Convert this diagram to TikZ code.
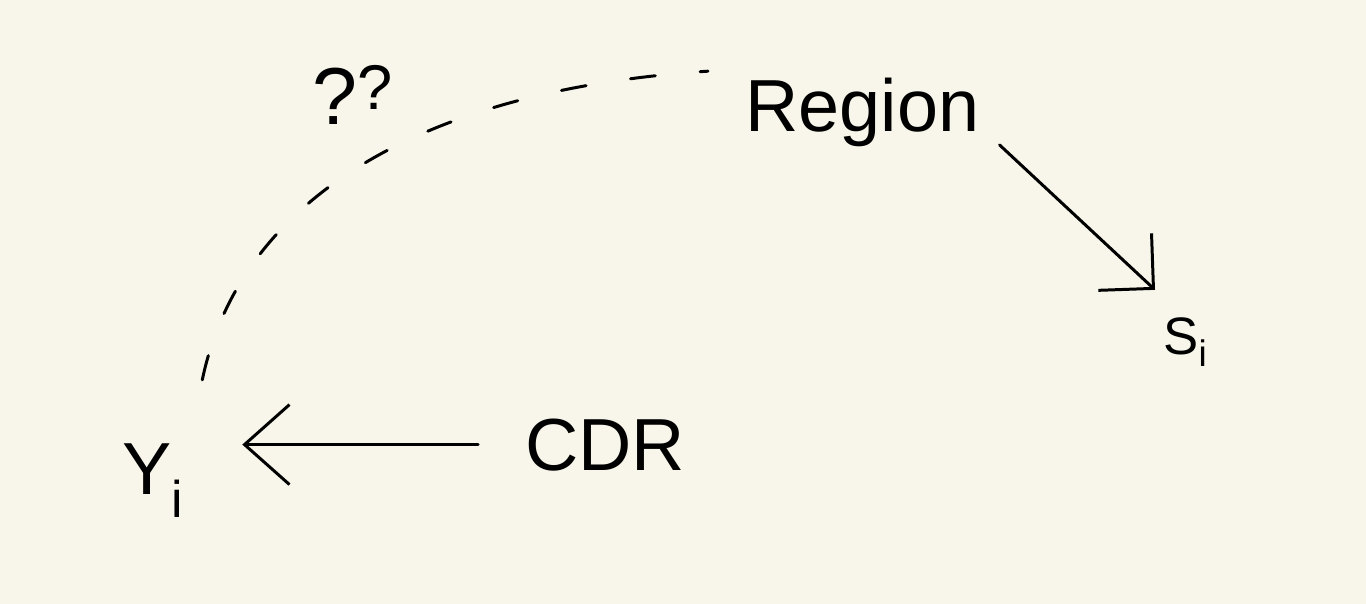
\documentclass[tikz,border=0pt]{standalone}
\usepackage{fontspec}
\setmainfont{Liberation Sans}
\usetikzlibrary{arrows.meta}
\definecolor{paper}{RGB}{248,246,234}

\begin{document}
\begin{tikzpicture}[
        x=0.02cm, y=-0.02cm,
        var/.style={inner sep=0pt, anchor=base west, font=\fontsize{42}{48}\selectfont},
        link/.style={black, line width=1.7pt, line cap=round},
        guess/.style={link, dash pattern=on 0.5cm off 0.9cm}
    ]
        % Fondo
        \fill[paper] (0,0) rectangle (1366,604);
        \useasboundingbox (0,0) rectangle (1366,604);

        % Variables
        \node[var] (Yi) at (122,495) {Y\textsubscript{i}};
        \node[var] (CDR) at (525,470) {CDR};
        \node[var] (Region) at (745,132) {Region};
        \node[var, font=\fontsize{30}{36}\selectfont] (Si) at (1163,355) {S\textsubscript{i}};

        % Flechas
        \draw[link, -{Straight Barb[length=0.9cm, width=1.6cm]},
            shorten <=0.94cm, shorten >=1.16cm]
            (CDR.west) -- (CDR.west -| Yi.east);
        \draw[link, -{Straight Barb[length=0.78cm, width=1.56cm]}]
            ([shift={(20,32)}]Region.east) -- ([shift={(-8,-28)}]Si.north west);

        % Enlace dudoso
        \draw[guess] ([shift={(18,-64)}]Yi.north east)
            .. controls (240,200) and (420,90) .. ([shift={(-37,-7)}]Region.north west);
        \node[var, font=\fontsize{46}{50}\selectfont] (qq) at (312,125)
            {?\raisebox{0.3cm}{\fontsize{36}{40}\selectfont ?}};

    \end{tikzpicture}
\end{document}
